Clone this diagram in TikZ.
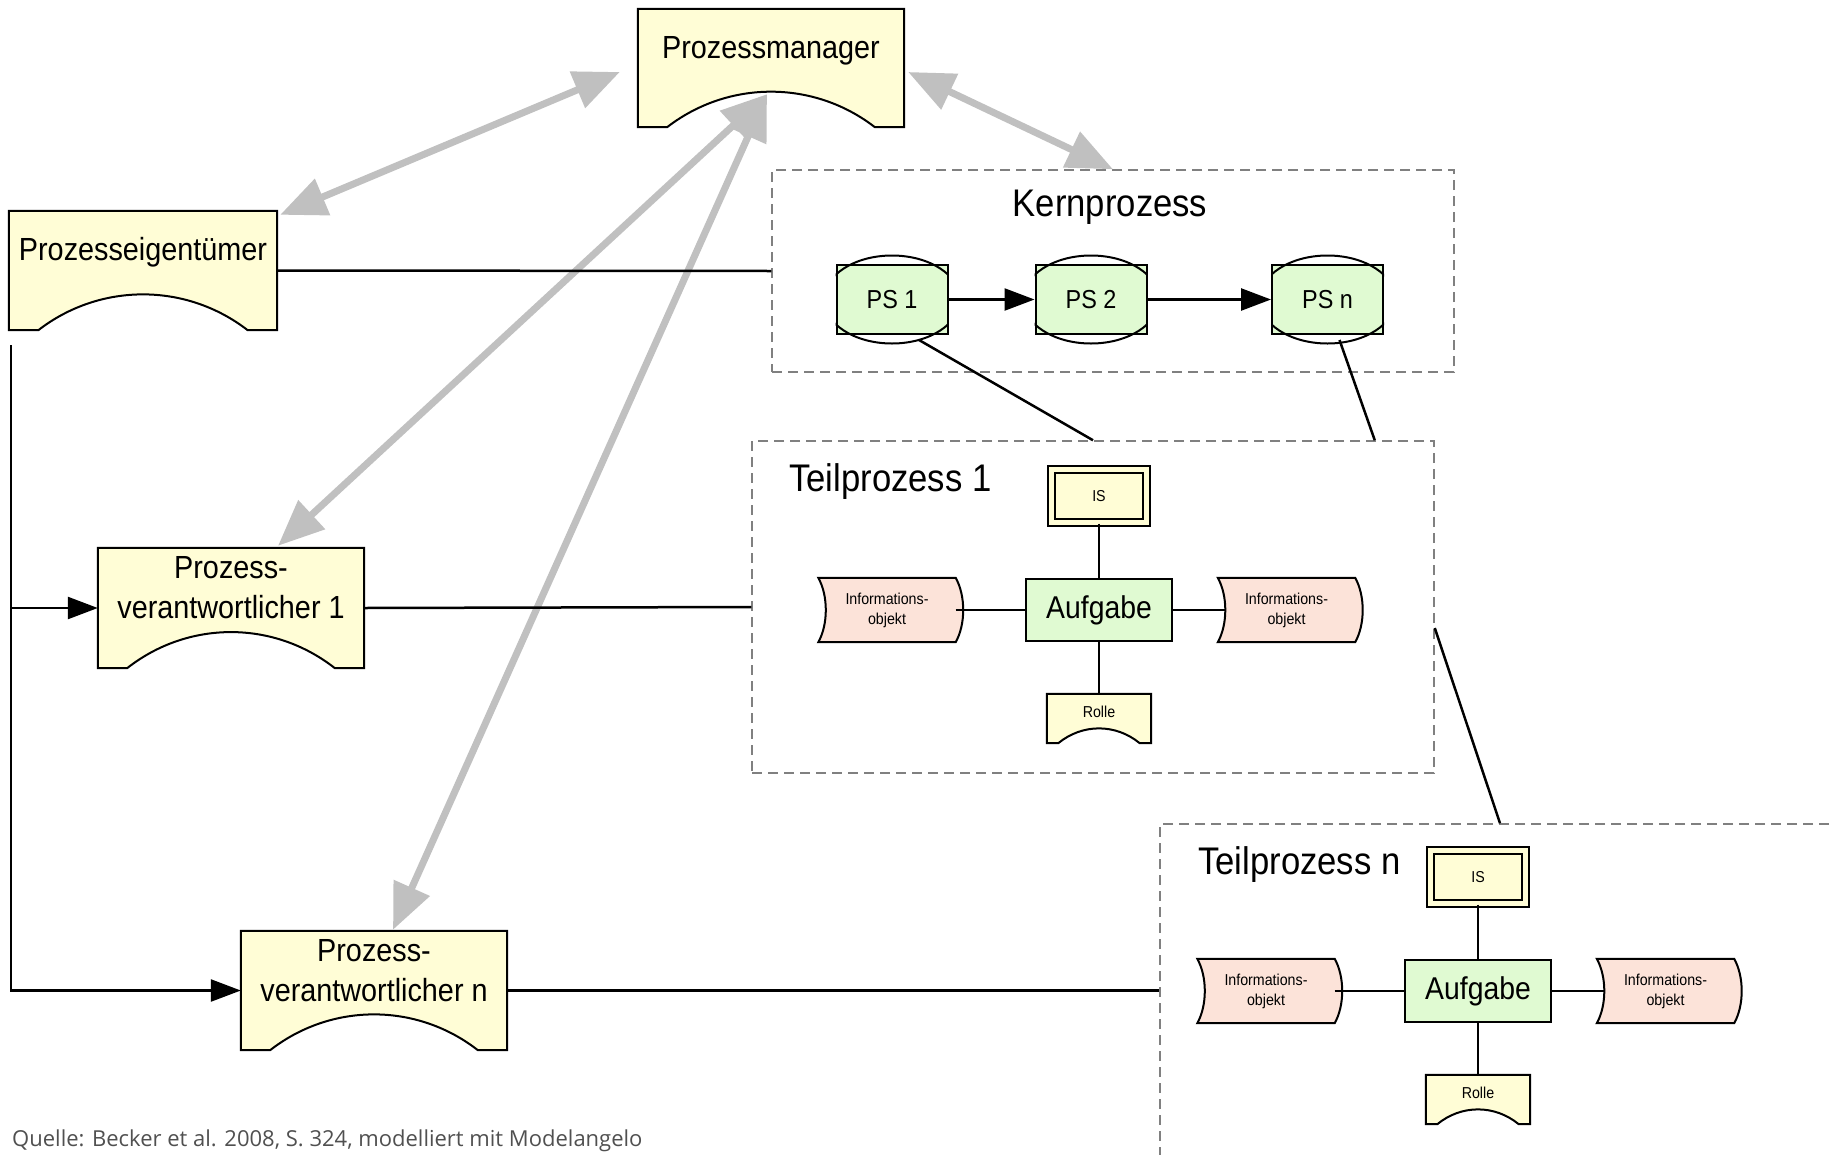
\documentclass[tikz,border=0pt]{standalone}
\usepackage{fontspec}
\setmainfont{Liberation Sans}[FakeStretch=0.9]
\newfontfamily\quellefont{Open Sans}
\usetikzlibrary{arrows.meta,backgrounds,calc}
\definecolor{orgyellow}{RGB}{255,253,214}
\definecolor{psgreen}{RGB}{224,250,210}
\definecolor{infopink}{RGB}{252,227,217}
\definecolor{arrowgray}{RGB}{192,192,192}
\definecolor{framegray}{RGB}{128,128,128}
\definecolor{quellegray}{RGB}{80,80,80}
\begin{document}
\begin{tikzpicture}[x=1pt,y=-1pt,
  orgbox/.style={inner sep=0pt, align=center, minimum width=266pt, font=\fontsize{32}{40}\selectfont},
  orgshape/.style={fill=orgyellow, draw, line width=2pt},
  groupbox/.style={draw=framegray, line width=1.5pt, dash pattern=on 10pt off 6pt},
  heading/.style={inner sep=0pt, font=\fontsize{38.5}{44}\selectfont},
  psbox/.style={draw, fill=psgreen, line width=2pt, minimum width=111pt, minimum height=69pt, font=\fontsize{26}{30}\selectfont},
  taskbox/.style={draw, fill=psgreen, line width=2pt, minimum width=146pt, minimum height=62pt, font=\fontsize{31.5}{36}\selectfont},
  sysbox/.style={draw, line width=2pt, double=orgyellow, double distance=4.5pt, fill=orgyellow, minimum width=95pt, minimum height=53pt, font=\fontsize{15.8}{19}\selectfont},
  infobox/.style={inner sep=0pt, minimum width=137pt, minimum height=64pt, align=center, font=\fontsize{15.8}{20}\selectfont},
  infoshape/.style={fill=infopink, draw, line width=2pt},
  rolebox/.style={inner sep=0pt, minimum width=104pt, text height=23pt, text depth=26pt, font=\fontsize{15.8}{19}\selectfont},
  conn/.style={line width=2.5pt},
  flow/.style={conn, -{Triangle[length=30pt,width=22pt]}},
  bigarrow/.style={draw=arrowgray, line width=7pt, {Triangle[length=46pt,width=38pt]}-{Triangle[length=46pt,width=38pt]}}]
\useasboundingbox (0,0) rectangle (1831,1154);
% Rollen
\node[orgbox, text height=49.5pt, text depth=68.5pt] (pm) at (771,68) {Prozessmanager};
\node[orgbox, minimum width=268pt, text height=49.5pt, text depth=69.5pt] (pe) at (143,270.5) {Prozesseigentümer};
\node[orgbox, text height=70pt, text depth=50pt] (pv1) at (231,608) {Prozess-\\verantwortlicher 1};
\node[orgbox, text height=70pt, text depth=49pt] (pvn) at (374,990.5) {Prozess-\\verantwortlicher n};
% Kernprozess
\node[groupbox, minimum width=682pt, minimum height=202pt] (kern) at (1113,271) {};
\node[heading] (kernlabel) at (1110,207) {Kernprozess};
\node[psbox] (ps1) at (892,299.5) {PS 1};
\node[psbox] (ps2) at (1091,299.5) {PS 2};
\node[psbox] (psn) at (1327.5,299.5) {PS n};
\foreach \o in {ps1,ps2,psn}{
  \begin{scope}
    \clip ([yshift=60pt]\o.north west) rectangle ([yshift=-60pt]\o.south east);
    \draw[line width=2pt] (\o.center) ellipse [x radius=68pt, y radius=44pt];
  \end{scope}
}
\draw[flow] (ps1) -- (ps2);
\draw[flow] (ps2) -- (psn);
% Teilprozesse
\node[groupbox, minimum width=682pt, minimum height=332pt] (tp1) at (1093,607) {};
\node[heading, anchor=west] (tp1label) at (789,482) {Teilprozess 1};
\node[groupbox, minimum width=680pt, minimum height=333pt] (tpn) at (1500,990.5) {};
\node[heading, anchor=west] (tpnlabel) at (1198,865) {Teilprozess n};
\foreach \t/\dx/\dy in {1/0/0,n/379/381}{
  \begin{scope}[shift={(\dx,\dy)}]
    \node[sysbox] (is\t) at (1099,496) {IS};
    \node[taskbox] (auf\t) at (1099,610) {Aufgabe};
    \node[infobox] (infl\t) at (887,610) {Informations-\\objekt};
    \node[infobox] (infr\t) at (1286.5,610) {Informations-\\objekt};
    \node[rolebox] (rolle\t) at (1099,718.5) {Rolle};
  \end{scope}
  \draw[conn] (is\t) -- (auf\t) -- (rolle\t);
  \draw[conn] (infl\t.east) -- (auf\t.west);
  \draw[conn] (auf\t.east) -- ([xshift=7.5pt]infr\t.west);
}
% grosse Pfeile
\draw[bigarrow] ([shift={(-18,4)}]pm.west) -- ([shift={(3,4)}]pe.north east);
\draw[bigarrow] ([shift={(4,4)}]pm.east) -- (kern.north);
\draw[bigarrow] ([shift={(-4,-33)}]pm.south) -- ([shift={(47,-2)}]pv1.north);
\draw[bigarrow] ([shift={(-4,-33)}]pm.south) -- ([shift={(19,-1)}]pvn.north);
% Verbindungen
\draw[conn] (pe.east) -- (kern.west);
\draw[conn] (pv1.east) -- (tp1.west);
\draw[conn] (pvn.east) -- (tpn.west);
\coordinate (stem) at ([shift={(2,15)}]pe.south west);
\draw[flow] (stem) |- (pvn.west);
\draw[flow] (stem |- pv1.west) -- (pv1.west);
\draw[conn] ([shift={(27,5)}]ps1.south) -- (tp1.north);
\draw[conn] ([shift={(12,5)}]psn.south) -- ([xshift=-60pt]tp1.north east);
\draw[conn] ([yshift=-21pt]tp1.east) -- (tpn.north);
% Formen
\begin{scope}[on background layer]
\foreach \o in {pm,pe,pv1,pvn,rolle1,rollen}
  \filldraw[orgshape] let \p1=(\o.south west), \p2=(\o.north east), \n1={\x2-\x1}, \n2={\y2-\y1} in
    (\p1) -- (\x1,\y2) -- (\p2) -- (\x2,\y1) -- ({\x2-0.11*\n1},\y1)
    .. controls ({\x2-0.34*\n1},{\y1+0.4*\n2}) and ({\x1+0.34*\n1},{\y1+0.4*\n2}) .. ({\x1+0.11*\n1},\y1) -- cycle;
\foreach \o in {infl1,infr1,infln,infrn}
  \filldraw[infoshape] (\o.north west) -- (\o.north east) .. controls +(10,18) and +(10,-18) .. (\o.south east)
    -- (\o.south west) .. controls +(10,-18) and +(10,18) .. (\o.north west) -- cycle;
\end{scope}
\node[anchor=base west, inner sep=0pt, text=quellegray, font=\quellefont\fontsize{22}{26}\selectfont] (quelle) at (12,1146) {Quelle: Becker et al. 2008, S. 324, modelliert mit Modelangelo};
\end{tikzpicture}
\end{document}
